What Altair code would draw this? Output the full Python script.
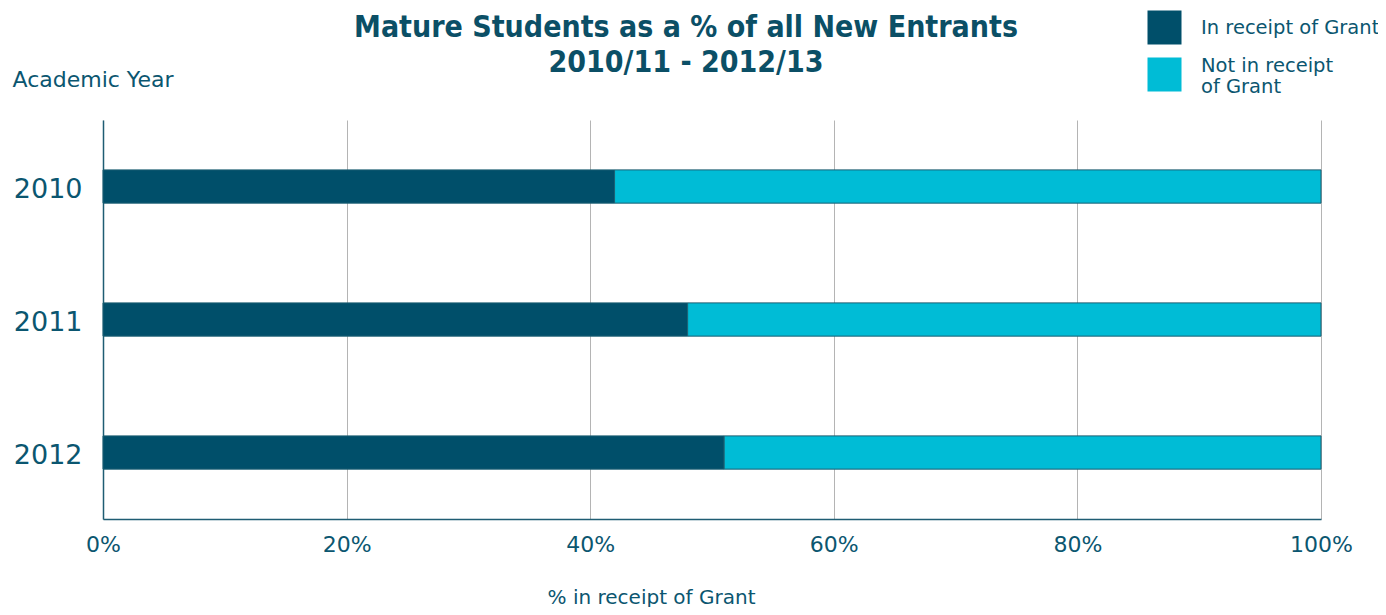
import altair as alt
import pandas as pd

years = ["2010", "2011", "2012"]
in_receipt = [42, 48, 51]
not_in_receipt = [58, 52, 49]
series = ["In receipt of Grant", "Not in receipt of Grant"]
colors = ["#004f6a", "#00bcd6"]
# legend symbol paths (second one sits lower to centre on its two-line label)
shapes = ["M-1,-1H1V1H-1Z", "M-1,-0.47H1V1.53H-1Z"]

rows = []
for y, a, b in zip(years, in_receipt, not_in_receipt):
    rows.append({"year": y, "status": series[0], "value": a, "order": 0})
    rows.append({"year": y, "status": series[1], "value": b, "order": 1})
df = pd.DataFrame(rows)

TXT = "#0b5670"
FONT = "DejaVu Sans"
LABEL_EXPR = ("datum.label == 'Not in receipt of Grant' ? "
              "['Not in receipt', 'of Grant'] : datum.label")

legend = alt.Legend(title=None, orient="none", legendX=1044, legendY=-110,
                    padding=0, symbolSize=1156,
                    symbolStrokeColor="#1d5f73", symbolStrokeWidth=1,
                    symbolOpacity=1,
                    labelFontSize=19.5, labelColor=TXT, labelFont=FONT,
                    labelOffset=19, rowPadding=1, labelLimit=300,
                    labelExpr=LABEL_EXPR)

y_enc = alt.Y("year:N", sort=years,
              scale=alt.Scale(paddingInner=0.75, paddingOuter=0.375),
              axis=alt.Axis(title="Academic Year", titleAngle=0, titleAlign="left",
                            titleBaseline="alphabetic", titleX=-91, titleY=-34,
                            titleFontSize=22, titleFontWeight="normal", titleColor=TXT,
                            titleFont=FONT,
                            labelFontSize=27, labelColor=TXT, labelFont=FONT,
                            labelPadding=21, labelOffset=3, ticks=False,
                            domainColor="#1f5d73", domainWidth=1.5, grid=False))
x_enc = alt.X("value:Q", stack="zero",
              scale=alt.Scale(domain=[0, 100], nice=False),
              axis=alt.Axis(values=[0, 20, 40, 60, 80, 100],
                            labelExpr="datum.value + '%'",
                            title="% in receipt of Grant",
                            titleX=548, titleY=78, titleBaseline="middle",
                            titleAnchor="start", titleAlign="center",
                            titleFontSize=20, titleFontWeight="normal", titleColor=TXT,
                            titleFont=FONT,
                            labelFontSize=22, labelColor=TXT, labelFont=FONT,
                            labelPadding=15, labelFlush=False, ticks=False,
                            domainColor="#1f5d73", domainWidth=1.5,
                            grid=True, gridColor="#b4b4b4", gridWidth=1))
color_enc = alt.Color("status:N", scale=alt.Scale(domain=series, range=colors),
                      legend=legend)
shape_enc = alt.Shape("status:N", scale=alt.Scale(domain=series, range=shapes),
                      legend=legend)

base = alt.Chart(df)
bars = base.mark_bar(stroke="#1d5f73", strokeWidth=1).encode(
    y=y_enc, x=x_enc, color=color_enc, order=alt.Order("order:Q"),
)
keys = base.mark_point(opacity=0, filled=True, stroke="#1d5f73", strokeWidth=1).encode(
    y=y_enc, x=x_enc, color=color_enc, shape=shape_enc, order=alt.Order("order:Q"),
)

chart = alt.layer(bars, keys).properties(
    width=1218,
    height=399,
    title=alt.TitleParams(
        text=["Mature Students as a % of all New Entrants", "2010/11 - 2012/13"],
        fontSize=30, font="DejaVu Sans Condensed", fontWeight="bold",
        color="#0b4f66", anchor="middle", dx=-26, dy=68, offset=0, lineHeight=35,
    ),
    autosize=alt.AutoSizeParams(type="none"),
    padding={"left": 95, "top": 112, "right": 57, "bottom": 88},
).configure_view(stroke=None)

chart.save("out.html", embed_options={"renderer": "svg", "actions": False})
